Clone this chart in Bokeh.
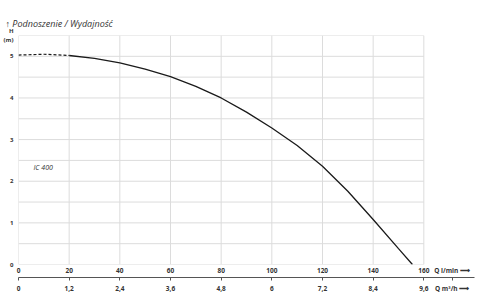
from bokeh.plotting import figure
from bokeh.models import Range1d, LinearAxis, FixedTicker, Label, Title
from bokeh.embed import file_html
from bokeh.resources import INLINE

# data
q_dash = [0, 10, 20]
h_dash = [5.03, 5.05, 5.02]
q_curve = [20, 30, 40, 50, 60, 70, 80, 90, 100, 110, 120, 130, 140, 150, 155.5]
h_curve = [5.02, 4.95, 4.84, 4.69, 4.51, 4.28, 4.0, 3.66, 3.28, 2.86, 2.36, 1.76, 1.08, 0.38, 0.0]
q_ticks = [0, 20, 40, 60, 80, 100, 120, 140, 160]
lmin_labels = ["0", "20", "40", "60", "80", "100", "120", "140", "160"]
m3h_labels = ["0", "1,2", "2,4", "3,6", "4,8", "6", "7,2", "8,4", "9,6"]
h_ticks = [0, 1, 2, 3, 4, 5]
h_labels = ["0", "1", "2", "3", "4", "5"]
h_grid = [0, 0.5, 1, 1.5, 2, 2.5, 3, 3.5, 4, 4.5, 5, 5.5]
unit_pos = 171.5        # where the unit captions sit on the Q axes
h_unit_pos = 5.5        # where the H caption sits on the H axis

FONT = "Open Sans"
TXT = "#333333"
GRID = "#dcdcdc"

p = figure(width=480, height=303, x_range=Range1d(0, 180), y_range=Range1d(0, 5.5),
           output_backend="svg", toolbar_location=None, x_axis_location=None,
           min_border_left=17, min_border_right=6, min_border_top=35, min_border_bottom=39,
           outline_line_color=None, background_fill_color="white", border_fill_color="white")
p.grid.visible = False

# light grid limited to the chart area (0..160 l/min, 0..5.5 m)
p.segment(x0=q_ticks, x1=q_ticks, y0=[h_grid[0]] * len(q_ticks), y1=[h_grid[-1]] * len(q_ticks),
          line_color=GRID, line_width=1)
p.segment(x0=[q_ticks[0]] * len(h_grid), x1=[q_ticks[-1]] * len(h_grid), y0=h_grid, y1=h_grid,
          line_color=GRID, line_width=1)

ya = p.yaxis[0]
ya.ticker = FixedTicker(ticks=h_ticks + [h_unit_pos])
ya.major_label_overrides = {**dict(zip(h_ticks, h_labels)), h_unit_pos: "H\n(m)"}
ya.axis_line_color = None
ya.major_tick_line_color = None
ya.minor_tick_line_color = None
ya.major_tick_out = 0
ya.major_tick_in = 0
ya.major_label_text_font = FONT
ya.major_label_text_font_style = "bold"
ya.major_label_text_font_size = "6px"
ya.major_label_text_align = "center"
ya.major_label_text_line_height = 1.1
ya.major_label_text_color = TXT
ya.major_label_standoff = 5

ax1 = LinearAxis(ticker=FixedTicker(ticks=q_ticks + [unit_pos]),
                 major_label_overrides={**dict(zip(q_ticks, lmin_labels)), unit_pos: "Q l/min  \u27f6"},
                 axis_line_color=None,
                 major_tick_line_color=None, minor_tick_line_color=None,
                 major_tick_out=0, major_tick_in=0,
                 major_label_standoff=1, major_label_text_baseline="middle",
                 major_label_text_font=FONT,
                 major_label_text_font_style="bold", major_label_text_font_size="6.5px",
                 major_label_text_color=TXT)
ax2 = LinearAxis(ticker=FixedTicker(ticks=q_ticks + [unit_pos]),
                 major_label_overrides={**dict(zip(q_ticks, m3h_labels)), unit_pos: "Q m³/h  \u27f6"},
                 axis_line_color="#555555", axis_line_width=1.2,
                 major_tick_line_color="#555555", major_tick_out=3, major_tick_in=0,
                 minor_tick_line_color=None, bounds=(0, 180),
                 major_label_standoff=3, major_label_text_font=FONT,
                 major_label_text_font_style="bold", major_label_text_font_size="6.5px",
                 major_label_text_color=TXT)
p.add_layout(ax1, "below")
p.add_layout(ax2, "below")

p.line(q_dash, h_dash, line_color="#1a1a1a", line_width=1.2, line_dash="3 2")
p.line(q_curve, h_curve, line_color="#1a1a1a", line_width=1.3)

p.add_layout(Label(x=5.9, y=2.33, text="IC 400", text_font=FONT, text_font_size="7px",
                   text_font_style="italic", text_color=TXT, text_baseline="middle"))

title = Title(text="\u2191  Podnoszenie / Wydajność", align="left", offset=-13,
              text_font=FONT, text_font_size="9px", text_font_style="italic",
              text_color=TXT, standoff=12)
p.add_layout(title, "above")

open("out.html", "w").write(file_html(p, INLINE))
